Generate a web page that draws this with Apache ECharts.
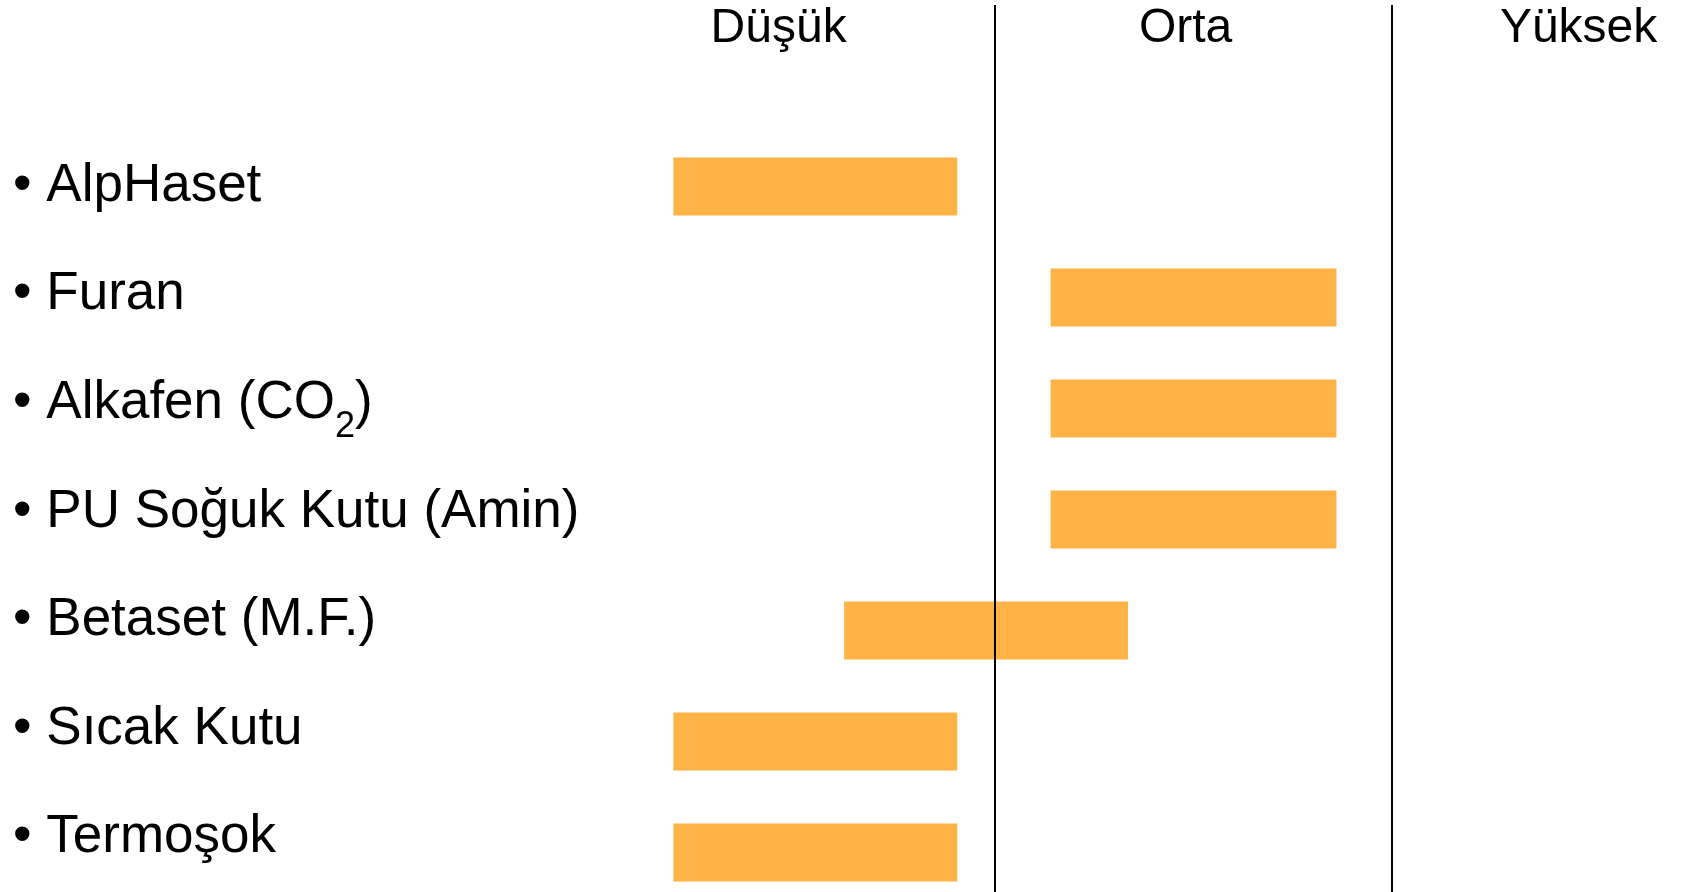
<!DOCTYPE html>
<html>
<head>
<meta charset="utf-8">
<script src="https://cdn.jsdelivr.net/npm/echarts@6/dist/echarts.min.js"></script>
<style>
html, body { margin: 0; padding: 0; background: #fff; }
#chartContainer { width: 1683px; height: 892px; }
</style>
</head>
<body>
<div id="chartContainer"></div>
<script>
// categories (top to bottom)
var methods = ['• AlpHaset', '• Furan', '• Alkafen (CO{sub|2})', '• PU Soğuk Kutu (Amin)', '• Betaset (M.F.)', '• Sıcak Kutu', '• Termoşok'];
// bar extents on the level scale (0 = left of Düşük, 1 = Düşük/Orta, 2 = Orta/Yüksek)
var barStart = [0.19, 1.14, 1.14, 1.14, 0.62, 0.19, 0.19];
var barEnd = [0.905, 1.86, 1.86, 1.86, 1.335, 0.905, 0.905];
// column headers and where they sit on the level scale
var levelNames = ['Düşük', 'Orta', 'Yüksek'];
var levelLabelPos = [0.455, 1.48, 2.47];
var levelBounds = [1, 2];

function drawChart(){
	var dom = document.getElementById('chartContainer');
	var myChart = echarts.init(dom, null, { renderer: 'canvas' });
	var font = "'Liberation Sans', Arial, sans-serif";
	var barLen = barEnd.map(function(v, i){ return +(v - barStart[i]).toFixed(3); });
	var xMax = 2.733; // visible part of the three columns

	var option = {
		backgroundColor: '#fff',
		animation: false,
		grid: [
			{ left: 598, right: 0, top: 131, height: 777, outerBoundsMode: 'none' },   // bars
			{ left: 598, right: 0, top: 5, bottom: 0, outerBoundsMode: 'none' },       // headers + dividers
			{ left: 598, right: 0, top: 132, height: 760, outerBoundsMode: 'none' }    // row labels
		],
		xAxis: [
			{ type: 'value', gridIndex: 0, min: 0, max: xMax, show: false },
			{
				type: 'value', gridIndex: 1, min: 0, max: xMax, position: 'top',
				axisLine: { show: false },
				axisTick: { show: false },
				splitLine: { show: false },
				axisLabel: {
					inside: true,
					margin: 0,
					customValues: levelLabelPos,
					formatter: function(val){
						var idx = levelLabelPos.indexOf(val);
						return idx >= 0 ? levelNames[idx] : '';
					},
					color: '#000',
					fontSize: 48,
					fontFamily: font
				}
			},
			{ type: 'value', gridIndex: 2, min: 0, max: xMax, show: false }
		],
		yAxis: [
			{ type: 'category', gridIndex: 0, inverse: true, data: methods, show: false },
			{ type: 'value', gridIndex: 1, min: 0, max: 1, show: false },
			{
				type: 'category', gridIndex: 2, inverse: true, data: methods,
				axisLine: { show: false },
				axisTick: { show: false },
				splitLine: { show: false },
				axisLabel: {
					align: 'left',
					margin: 585,
					color: '#000',
					fontSize: 53,
					lineHeight: 60,
					fontFamily: font,
					rich: {
						sub: { fontSize: 36, lineHeight: 20, verticalAlign: 'top', padding: [36, 0, 0, 0], color: '#000', fontFamily: font }
					}
				}
			}
		],
		series: [
			{
				type: 'bar', xAxisIndex: 0, yAxisIndex: 0, stack: 'range',
				barWidth: 58, silent: true,
				itemStyle: { color: 'transparent' },
				data: barStart
			},
			{
				type: 'bar', xAxisIndex: 0, yAxisIndex: 0, stack: 'range',
				barWidth: 58,
				itemStyle: { color: '#FFB347' },
				data: barLen
			},
			{
				type: 'line', xAxisIndex: 1, yAxisIndex: 1, data: [],
				markLine: {
					silent: true,
					symbol: 'none',
					label: { show: false },
					lineStyle: { color: '#000', width: 2, type: 'solid' },
					data: levelBounds.map(function(v){ return { xAxis: v }; })
				}
			}
		]
	};

	if(option && typeof option === 'object'){
		myChart.setOption(option);
	}
}
drawChart();
</script>
</body>
</html>
